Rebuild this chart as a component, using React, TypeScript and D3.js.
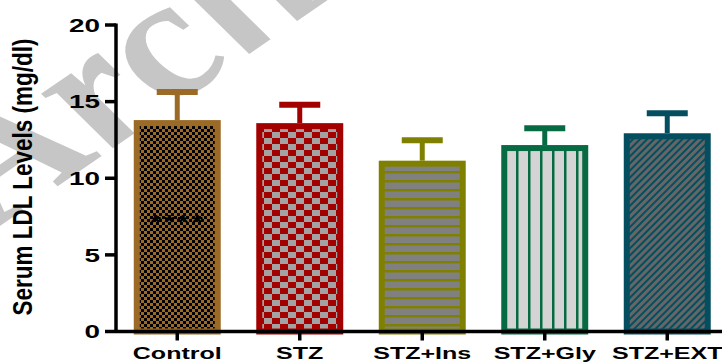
import React from "react";
import * as d3 from "d3";

// Serum LDL by treatment group (mean ± SEM)
const categories = ["Control", "STZ", "STZ+Ins", "STZ+Gly", "STZ+EXT"];
const means = [13.6, 13.4, 10.95, 11.97, 12.74];
const errors = [2.03, 1.4, 1.53, 1.29, 1.5];
const yTicks = [0, 5, 10, 15, 20];
const strokeColors = ["#9c6a27", "#a30000", "#808000", "#066b42", "#044e60"];
const patternIds = ["pCtrl", "pStz", "pIns", "pGly", "pExt"];
const significance = ["****", "", "", "", ""];

const W = 722;
const H = 362;
const FONT = "'Liberation Sans', Arial, sans-serif";
// text is drawn horizontally widened
const SX = 1.5;

export default function App() {
  const x = d3
    .scaleBand<string>()
    .domain(categories)
    .range([116, 728.5])
    .paddingInner(0.29)
    .paddingOuter(0.145);
  const y = d3.scaleLinear().domain([0, 20]).range([331.5, 25]);
  const barStroke = 6;
  const axisX = 116;
  const axisY = y(0);

  return (
    <svg
      width={W}
      height={H}
      viewBox={`0 0 ${W} ${H}`}
      style={{ position: "absolute", left: 0, top: 0, display: "block", background: "#fff" }}
    >
      <defs>
        <pattern id="pCtrl" patternUnits="userSpaceOnUse" width={6} height={6}>
          <rect width={6} height={6} fill="#9c6a27" />
          <rect x={0} y={0} width={3} height={3} fill="#000" />
          <rect x={3} y={3} width={3} height={3} fill="#000" />
        </pattern>
        <pattern id="pStz" patternUnits="userSpaceOnUse" width={16} height={12}>
          <rect width={16} height={12} fill="#a30000" />
          <rect x={0} y={0} width={8} height={6} fill="#a3a3a3" />
          <rect x={8} y={6} width={8} height={6} fill="#a3a3a3" />
        </pattern>
        <pattern id="pIns" patternUnits="userSpaceOnUse" width={10} height={9}>
          <rect width={10} height={9} fill="#808080" />
          <rect x={0} y={0} width={10} height={2.5} fill="#808000" />
        </pattern>
        <pattern id="pGly" patternUnits="userSpaceOnUse" width={12} height={10}>
          <rect width={12} height={10} fill="#d4d4d4" />
          <rect x={0} y={0} width={2.5} height={10} fill="#066b42" />
        </pattern>
        <pattern
          id="pExt"
          patternUnits="userSpaceOnUse"
          width={5}
          height={10}
          patternTransform="rotate(45)"
        >
          <rect width={5} height={10} fill="#666666" />
          <rect x={0} y={0} width={2} height={10} fill="#044e60" />
        </pattern>
      </defs>

      {/* watermark */}
      <text
        transform="scale(1.45,1) translate(0,226) rotate(-45)"
        fontFamily="'Liberation Serif', 'Times New Roman', serif"
        fontStyle="italic"
        fontWeight="bold"
        fontSize={160}
        fill="#c6c6c6"
      >
        Archive
      </text>

      {/* bars */}
      {categories.map((c, i) => {
        const bx = x(c)!;
        const bw = x.bandwidth();
        const top = y(means[i]);
        return (
          <rect
            key={c}
            x={bx + barStroke / 2}
            y={top}
            width={bw - barStroke}
            height={axisY - top}
            fill={`url(#${patternIds[i]})`}
            stroke={strokeColors[i]}
            strokeWidth={barStroke}
          />
        );
      })}

      {/* error bars */}
      {categories.map((c, i) => {
        const cx = x(c)! + x.bandwidth() / 2;
        const top = y(means[i]);
        const hi = y(means[i] + errors[i]);
        return (
          <g key={`e-${c}`} stroke={strokeColors[i]}>
            <line x1={cx} x2={cx} y1={top - barStroke / 2} y2={hi} strokeWidth={5} />
            <line x1={cx - 20.5} x2={cx + 20.5} y1={hi} y2={hi} strokeWidth={6} />
          </g>
        );
      })}

      {/* significance markers */}
      {categories.map((c, i) =>
        significance[i] ? (
          <text
            key={`s-${c}`}
            transform={`translate(${x(c)! + x.bandwidth() / 2},229) scale(${SX},1)`}
            textAnchor="middle"
            fontFamily={FONT}
            fontWeight="bold"
            fontSize={20}
            letterSpacing={1.5}
            fill="#000"
          >
            {significance[i]}
          </text>
        ) : null
      )}

      {/* y axis */}
      <line x1={axisX} x2={axisX} y1={y(20) - 1.5} y2={axisY + 1.5} stroke="#000" strokeWidth={3.5} />
      {yTicks.map((t) => (
        <g key={`yt-${t}`}>
          <line x1={105} x2={axisX} y1={y(t)} y2={y(t)} stroke="#000" strokeWidth={3.5} />
          <text
            transform={`translate(100,${y(t)}) scale(${SX},1)`}
            dy="0.36em"
            textAnchor="end"
            fontFamily={FONT}
            fontWeight="bold"
            fontSize={18.6}
            fill="#000"
          >
            {t}
          </text>
        </g>
      ))}

      {/* x axis */}
      <line x1={axisX} x2={W} y1={axisY} y2={axisY} stroke="#000" strokeWidth={3.5} />
      {categories.map((c) => {
        const cx = x(c)! + x.bandwidth() / 2;
        return (
          <g key={`xt-${c}`}>
            <line x1={cx} x2={cx} y1={axisY} y2={axisY + 9} stroke="#000" strokeWidth={3.5} />
            <text
              transform={`translate(${cx},358.5) scale(${SX},1)`}
              textAnchor="middle"
              fontFamily={FONT}
              fontWeight="bold"
              fontSize={16.7}
              fill="#000"
            >
              {c}
            </text>
          </g>
        );
      })}

      {/* y axis title */}
      <text
        transform="translate(32,177) scale(1.2,1) rotate(-90)"
        textAnchor="middle"
        fontFamily={FONT}
        fontWeight="bold"
        fontSize={22.5}
        fill="#000"
      >
        Serum LDL Levels (mg/dl)
      </text>
    </svg>
  );
}
